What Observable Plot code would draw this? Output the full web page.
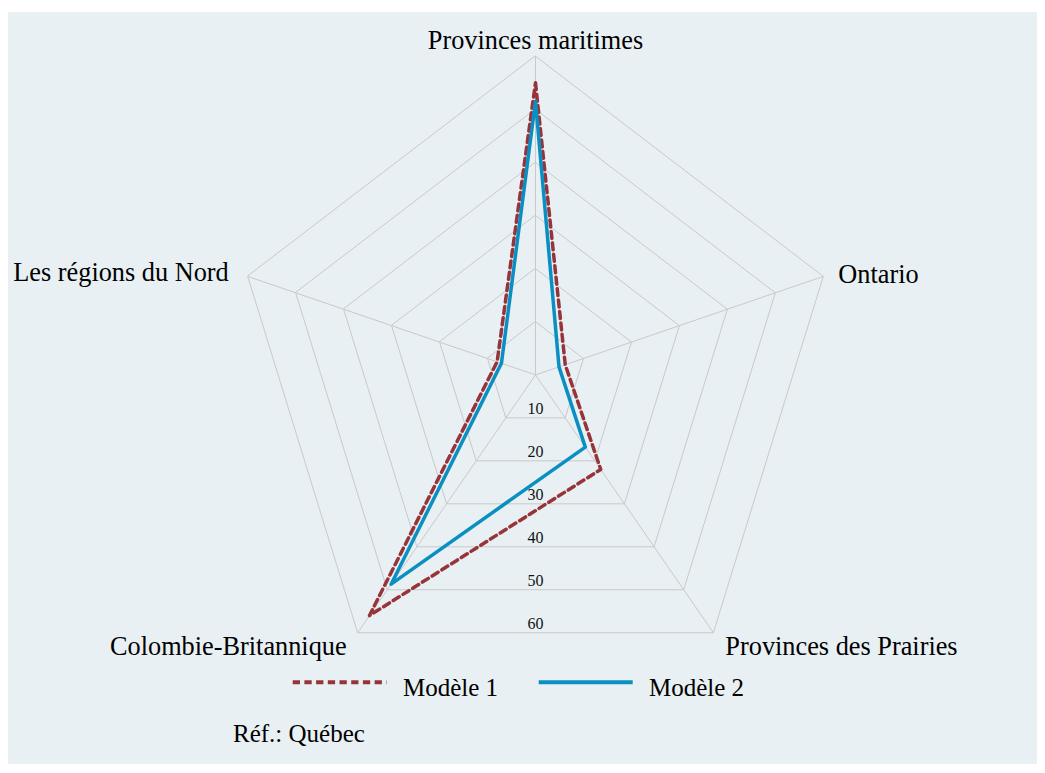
<!DOCTYPE html>
<html>
<head>
<meta charset="utf-8">
<script src="https://cdn.jsdelivr.net/npm/d3@7"></script>
<script src="https://cdn.jsdelivr.net/npm/@observablehq/plot@0.6"></script>
<style>
  html, body { margin: 0; padding: 0; background: #ffffff; }
  #panel { position: absolute; left: 8px; top: 12px; width: 1029px; height: 752px; background: #e8f0f3; overflow: hidden;
           font-family: "Liberation Serif", "Times New Roman", serif; color: #000; }
  #chart { position: absolute; left: 0; top: 0; }
  .leg { position: absolute; top: 665px; font-size: 25px; line-height: 30px; white-space: nowrap; }
  .leg svg { position: absolute; top: 0; left: 0; }
  #caption { position: absolute; left: 225px; top: 707px; font-size: 25px; line-height: 30px; }
</style>
</head>
<body>
<div id="panel">
  <div id="chart"></div>
  <div class="leg" id="leg1" style="left:284px; width:230px;"></div>
  <div class="leg" id="leg2" style="left:530px; width:230px;"></div>
  <div id="caption"></div>
</div>
<script>
// ---- data ----
const categories = ["Provinces maritimes", "Ontario", "Provinces des Prairies", "Colombie-Britannique", "Les régions du Nord"];
const modele1 = [55, 6.2, 22, 56, 8];
const modele2 = [51.5, 4.9, 16.8, 48.7, 7.1];
const ringTicks = [10, 20, 30, 40, 50, 60];
const seriesNames = ["Modèle 1", "Modèle 2"];
const captionText = "Réf.: Québec";

const maxVal = 60;
const red = "#97343a";
const blue = "#0a8fc2";
const grid = "#c9c9c9";
const font = '"Liberation Serif", "Times New Roman", serif';

const angle = i => (i * 2 * Math.PI) / categories.length;
const px = (v, i) => v * Math.sin(angle(i));
const py = (v, i) => v * Math.cos(angle(i));

const toPoints = (vals, name) => vals.map((v, i) => ({name, cat: categories[i], x: px(v, i), y: py(v, i)}));
const pts1 = toPoints(modele1, seriesNames[0]);
const pts2 = toPoints(modele2, seriesNames[1]);

const rings = ringTicks.flatMap(t => categories.map((c, i) => ({t, x: px(t, i), y: py(t, i)})));
const spokes = categories.map((c, i) => ({cat: c, x: px(maxVal, i), y: py(maxVal, i)}));
const tickLabels = ringTicks.map(t => ({t, x: 0, y: -t * Math.cos(Math.PI / categories.length)}));

const labelStyle = [
  {textAnchor: "middle", lineAnchor: "bottom", dx: 0, dy: -7},
  {textAnchor: "start", lineAnchor: "middle", dx: 15, dy: -2},
  {textAnchor: "start", lineAnchor: "top", dx: 12, dy: 4},
  {textAnchor: "end", lineAnchor: "top", dx: -11, dy: 4},
  {textAnchor: "end", lineAnchor: "middle", dx: -19, dy: -3.5}
];

const labelMarks = spokes.map((s, i) => Plot.text([s], {
  x: "x", y: "y", text: "cat", fontSize: 26.3, fill: "#000", ...labelStyle[i]
}));

const plot = Plot.plot({
  width: 1029,
  height: 652,
  margin: 0,
  x: {domain: [-maxVal, maxVal], range: [224.4, 829.6], axis: null},
  y: {domain: [-maxVal, maxVal], range: [681.1, 43.7], axis: null},
  style: {background: "transparent", fontFamily: font, overflow: "visible"},
  marks: [
    Plot.line(rings, {x: "x", y: "y", z: "t", curve: "linear-closed", stroke: grid, strokeWidth: 1}),
    Plot.link(spokes, {x1: 0, y1: 0, x2: "x", y2: "y", stroke: grid, strokeWidth: 1}),
    Plot.text(tickLabels, {x: "x", y: "y", text: d => String(d.t), fontSize: 16, fill: "#111", textAnchor: "middle", lineAnchor: "bottom", dy: -4}),
    Plot.line(pts1, {x: "x", y: "y", curve: "linear-closed", stroke: red, strokeWidth: 3.5, strokeDasharray: "7,4.5"}),
    Plot.line(pts2, {x: "x", y: "y", curve: "linear-closed", stroke: blue, strokeWidth: 3.5}),
    ...labelMarks
  ]
});
document.getElementById("chart").appendChild(plot);

// ---- legend ----
function legendItem(el, name, color, dash) {
  el.innerHTML = `<svg width="100" height="30"><line x1="0.7" x2="94.7" y1="5.3" y2="5.3" stroke="${color}" stroke-width="4" ${dash ? 'stroke-dasharray="7.3,4.4"' : ''}/></svg>` +
    `<span style="position:absolute; left:111px; top:-4px;">${name}</span>`;
}
legendItem(document.getElementById("leg1"), seriesNames[0], red, true);
legendItem(document.getElementById("leg2"), seriesNames[1], blue, false);
document.getElementById("caption").textContent = captionText;
</script>
</body>
</html>
